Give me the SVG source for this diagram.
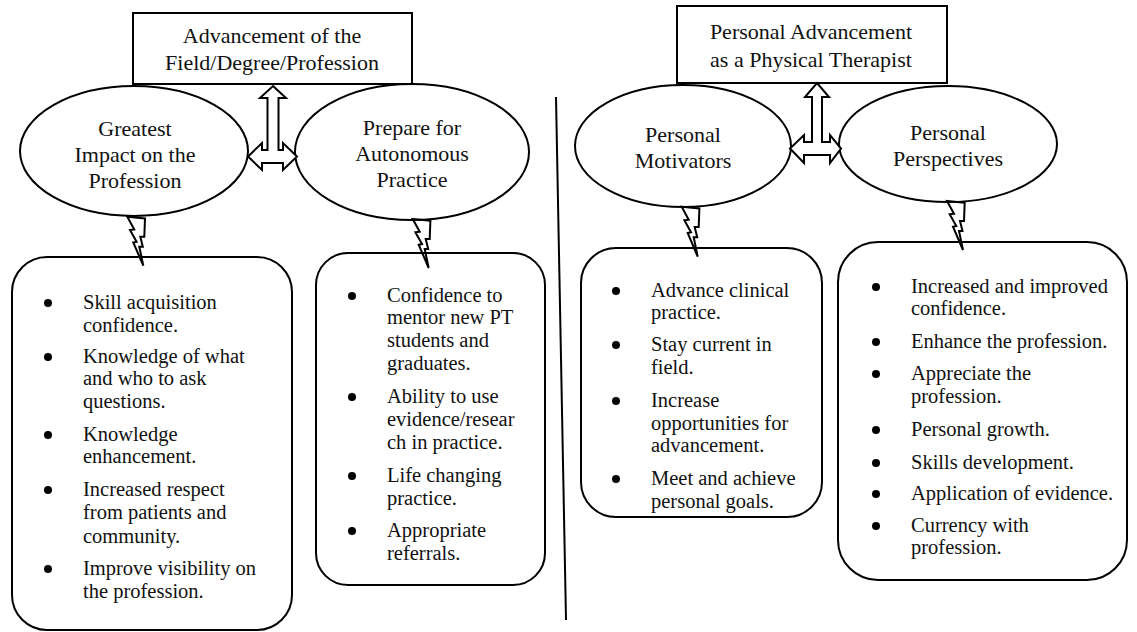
<svg xmlns="http://www.w3.org/2000/svg" width="1137" height="632" viewBox="0 0 1137 632">
<style>
.shape{fill:#fff;stroke:#000;stroke-width:2}
.conn{fill:#fff;stroke:#000;stroke-width:2;stroke-linejoin:miter}
.bolt{fill:none;stroke:#000;stroke-width:2;stroke-linejoin:miter}
.t{font-family:"Liberation Serif","Times New Roman",serif;font-size:22px;fill:#111;text-anchor:middle}
.b{font-family:"Liberation Serif","Times New Roman",serif;font-size:20.5px;fill:#111}
.dot{fill:#000}
</style>
<defs>
<path id="bolt" d="M0,0 L17.7,1.7 L17,20 L13,20 L15.5,30 L12,30 L16,49 L6,25.7 L9.3,25 L2.7,13.3 L7,12.7 Z"/>
</defs>
<rect width="1137" height="632" fill="#fff"/>
<line x1="556" y1="97" x2="566" y2="620" stroke="#000" stroke-width="2"/>

<g id="box-left-result">
<rect class="shape" x="12" y="257" width="280" height="373" rx="35"/>
<circle class="dot" cx="48" cy="303" r="4"/>
<circle class="dot" cx="48" cy="357" r="4"/>
<circle class="dot" cx="48" cy="435" r="4"/>
<circle class="dot" cx="48" cy="490" r="4"/>
<circle class="dot" cx="48" cy="569" r="4"/>
<text class="b" x="83" y="309">Skill acquisition</text>
<text class="b" x="83" y="332">confidence.</text>
<text class="b" x="83" y="363">Knowledge of what</text>
<text class="b" x="83" y="385">and who to ask</text>
<text class="b" x="83" y="408">questions.</text>
<text class="b" x="83" y="441">Knowledge</text>
<text class="b" x="83" y="463">enhancement.</text>
<text class="b" x="83" y="496">Increased respect</text>
<text class="b" x="83" y="519">from patients and</text>
<text class="b" x="83" y="543">community.</text>
<text class="b" x="83" y="575">Improve visibility on</text>
<text class="b" x="83" y="598">the profession.</text>
</g>

<g id="box-prepare-result">
<rect class="shape" x="316" y="253" width="229" height="332" rx="32"/>
<circle class="dot" cx="352" cy="296" r="4"/>
<circle class="dot" cx="352" cy="397" r="4"/>
<circle class="dot" cx="352" cy="476" r="4"/>
<circle class="dot" cx="352" cy="531" r="4"/>
<text class="b" x="387" y="302">Confidence to</text>
<text class="b" x="387" y="324">mentor new PT</text>
<text class="b" x="387" y="347">students and</text>
<text class="b" x="387" y="370">graduates.</text>
<text class="b" x="387" y="403">Ability to use</text>
<text class="b" x="387" y="426">evidence/resear</text>
<text class="b" x="387" y="449">ch in practice.</text>
<text class="b" x="387" y="482">Life changing</text>
<text class="b" x="387" y="505">practice.</text>
<text class="b" x="387" y="537">Appropriate</text>
<text class="b" x="387" y="560">referrals.</text>
</g>

<g id="box-motivators-result">
<rect class="shape" x="581" y="248" width="241" height="269" rx="35"/>
<circle class="dot" cx="616" cy="291" r="4"/>
<circle class="dot" cx="616" cy="345" r="4"/>
<circle class="dot" cx="616" cy="401" r="4"/>
<circle class="dot" cx="616" cy="479" r="4"/>
<text class="b" x="651" y="297">Advance clinical</text>
<text class="b" x="651" y="319">practice.</text>
<text class="b" x="651" y="351">Stay current in</text>
<text class="b" x="651" y="374">field.</text>
<text class="b" x="651" y="407">Increase</text>
<text class="b" x="651" y="430">opportunities for</text>
<text class="b" x="651" y="452">advancement.</text>
<text class="b" x="651" y="485">Meet and achieve</text>
<text class="b" x="651" y="508">personal goals.</text>
</g>

<g id="box-perspectives-result">
<rect class="shape" x="838" y="242" width="289" height="338" rx="40"/>
<circle class="dot" cx="876" cy="287" r="4"/>
<circle class="dot" cx="876" cy="342" r="4"/>
<circle class="dot" cx="876" cy="374" r="4"/>
<circle class="dot" cx="876" cy="430" r="4"/>
<circle class="dot" cx="876" cy="463" r="4"/>
<circle class="dot" cx="876" cy="494" r="4"/>
<circle class="dot" cx="876" cy="526" r="4"/>
<text class="b" x="911" y="293">Increased and improved</text>
<text class="b" x="911" y="315">confidence.</text>
<text class="b" x="911" y="348">Enhance the profession.</text>
<text class="b" x="911" y="380">Appreciate the</text>
<text class="b" x="911" y="403">profession.</text>
<text class="b" x="911" y="436">Personal growth.</text>
<text class="b" x="911" y="469">Skills development.</text>
<text class="b" x="911" y="500">Application of evidence.</text>
<text class="b" x="911" y="532">Currency with</text>
<text class="b" x="911" y="554">profession.</text>
</g>

<g id="title-left">
<rect class="shape" x="133" y="13" width="279" height="71"/>
<text class="t" x="272" y="43">Advancement of the</text>
<text class="t" x="272" y="70">Field/Degree/Profession</text>
</g>

<g id="title-right">
<rect class="shape" x="677" y="6" width="270" height="77"/>
<text class="t" x="811" y="39">Personal Advancement</text>
<text class="t" x="811" y="67">as a Physical Therapist</text>
</g>

<g id="ellipse-impact">
<ellipse class="shape" cx="134" cy="151" rx="114" ry="65"/>
<text class="t" x="135" y="136">Greatest</text>
<text class="t" x="135" y="162">Impact on the</text>
<text class="t" x="135" y="188">Profession</text>
</g>

<g id="ellipse-prepare">
<ellipse class="shape" cx="412" cy="152" rx="117" ry="68"/>
<text class="t" x="412" y="135">Prepare for</text>
<text class="t" x="412" y="161">Autonomous</text>
<text class="t" x="412" y="187">Practice</text>
</g>

<g id="ellipse-motivators">
<ellipse class="shape" cx="683" cy="146" rx="108" ry="61"/>
<text class="t" x="683" y="142">Personal</text>
<text class="t" x="683" y="168">Motivators</text>
</g>

<g id="ellipse-perspectives">
<ellipse class="shape" cx="948" cy="144" rx="109" ry="58"/>
<text class="t" x="948" y="140">Personal</text>
<text class="t" x="948" y="166">Perspectives</text>
</g>

<g id="connectors">
<path class="conn" d="M273,86 L286,98 L278.5,98 L278.5,150 L283,150 L283,143 L297,156.5 L283,170 L283,163 L262,163 L262,170 L248,156.5 L262,143 L262,150 L267.5,150 L267.5,98 L260,98 Z"/>
<path class="conn" d="M817,83 L829,97 L822,97 L822,142 L830,142 L830,135 L841,148.5 L830,163 L830,155 L804,155 L804,163 L790,148.5 L804,135 L804,142 L812,142 L812,97 L805,97 Z"/>
<use href="#bolt" class="bolt" transform="translate(127.3,216.7)"/>
<use href="#bolt" class="bolt" transform="translate(412.7,219)"/>
<use href="#bolt" class="bolt" transform="translate(681.7,206.7) scale(1,1.02)"/>
<use href="#bolt" class="bolt" transform="translate(947,201)"/>
</g>
</svg>
